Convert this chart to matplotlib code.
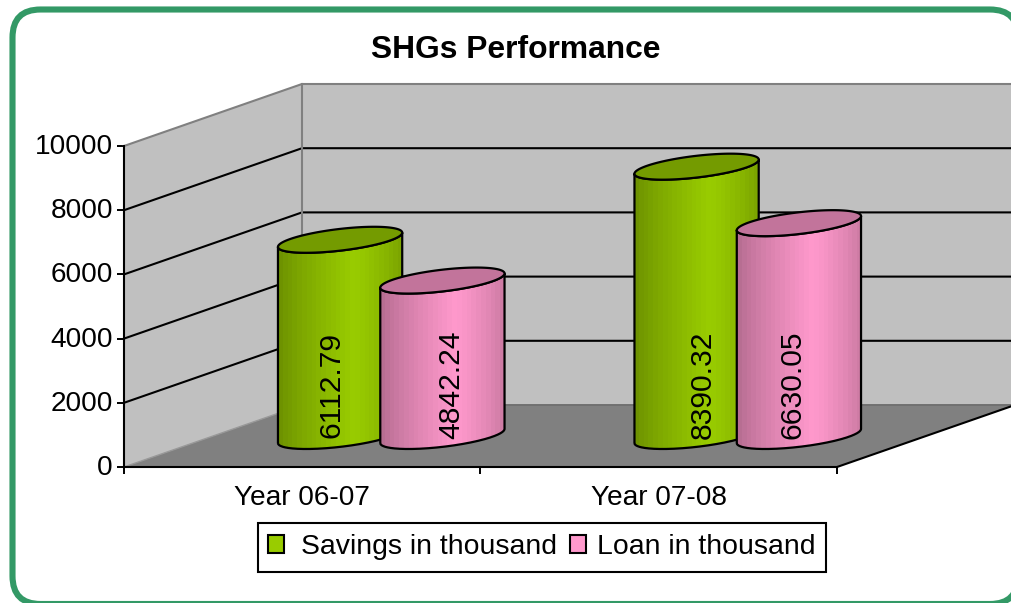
import numpy as np
import matplotlib
matplotlib.use("Agg")
import matplotlib.pyplot as plt
from matplotlib.patches import FancyBboxPatch, PathPatch, Patch, Polygon, Rectangle
from matplotlib.path import Path
from matplotlib.transforms import IdentityTransform, ScaledTranslation

plt.rcParams['font.family'] = ['Liberation Sans', 'DejaVu Sans']

TITLE = "SHGs Performance"
categories = ["Year 06-07", "Year 07-08"]
savings = [6112.79, 8390.32]
loan = [4842.24, 6630.05]
savings_labels = ["6112.79", "8390.32"]
loan_labels = ["4842.24", "6630.05"]
y_ticks = [0, 2000, 4000, 6000, 8000, 10000]
series_names = ["Savings in thousand", "Loan in thousand"]

W, H = 1012, 603
FS = 20.2
LFS = 20.4
fig = plt.figure(figsize=(W / 100, H / 100), dpi=100, facecolor='white')

# rounded outer frame
frame = FancyBboxPatch((12.5 + 28, H - 604 + 28), 1018 - 12.5 - 56, 604 - 9.5 - 56,
                       boxstyle="round,pad=28,rounding_size=28",
                       transform=IdentityTransform(), fc='white', ec='#339966', lw=4.4, zorder=0)
fig.add_artist(frame)

# axes = front plane of the 3-D box
L, R, T, B = 124, 837, 146, 467
ax = fig.add_axes([L / W, 1 - B / H, (R - L) / W, (B - T) / H])
ax.patch.set_visible(False)
ax.set_xlim(0, 2)
ax.set_ylim(0, 10000)
sx = 2 / (R - L)        # data units per pixel
sy = 10000 / (B - T)
DX, DY = 178 * sx, 62 * sy   # depth vector

kw = dict(clip_on=False)
ax.add_patch(Polygon([(0, 0), (DX, DY), (DX, 10000 + DY), (0, 10000)], fc='#C0C0C0', ec='none', zorder=1, **kw))
ax.add_patch(Polygon([(DX, DY), (2 + DX, DY), (2 + DX, 10000 + DY), (DX, 10000 + DY)], fc='#C0C0C0', ec='none', zorder=1, **kw))
ax.add_patch(Polygon([(0, 0), (2, 0), (2 + DX, DY), (DX, DY)], fc='#808080', ec='none', zorder=1, **kw))
for v in y_ticks[1:]:
    ax.plot([0, DX, 2 + DX], [v, v + DY, v + DY], color='black' if v < 10000 else '#808080',
            lw=1.5, zorder=2, solid_joinstyle='miter', **kw)
ax.plot([DX, DX], [DY, 10000 + DY], color='#808080', lw=1.5, zorder=2, **kw)
ax.plot([DX, 2 + DX], [DY, DY], color='#707070', lw=1.4, zorder=2, **kw)
ax.plot([0, DX], [0, DY], color='#999999', lw=1.0, zorder=2, **kw)
ax.plot([2, 2 + DX], [0, DY], color='black', lw=1.5, zorder=3, **kw)

# cylinders: slanted elliptical end caps
A, BX, BY = 52 * sx, 34 * sx, 13 * sy


def ring(cx, cy, n=360):
    t = np.linspace(0, 2 * np.pi, n, endpoint=False)
    return np.c_[cx + A * np.cos(t) + BX * np.sin(t), cy + BY * np.sin(t)]


def front_half(pts):
    left, right = int(np.argmin(pts[:, 0])), int(np.argmax(pts[:, 0]))
    rolled = np.roll(pts, -left, axis=0)
    return rolled[: (right - left) % len(pts) + 1]


def shade_factors(n=26):
    u = (np.arange(n) + 0.5) / n
    return np.where(u < 0.6, 0.70 + 0.30 * (u / 0.6) ** 0.8, 1.0 - 0.20 * ((u - 0.6) / 0.4) ** 1.3)


def cylinder(pos, value, base_rgb, z):
    cx, cy = pos + DX / 2, DY / 2
    top = value + cy
    front_top = front_half(ring(cx, top))
    front_bot = front_half(ring(cx, cy))
    body = np.vstack([front_bot, front_top[::-1], front_bot[:1]])
    outline = PathPatch(Path(body), fc='none', ec='black', lw=1.6, zorder=z + 0.2, clip_on=False,
                        joinstyle='round')
    clip = PathPatch(Path(body), fc='none', ec='none', transform=ax.transData)
    ax.add_patch(clip)
    cols = np.array(base_rgb)[None, None, :] * shade_factors()[None, :, None]
    xs = body[:, 0]
    im = ax.imshow(cols, extent=[xs.min(), xs.max(), cy - BY * 1.2, top + BY * 1.2], aspect='auto',
                   interpolation='nearest', origin='lower', zorder=z)
    im.set_clip_box(fig.bbox)
    im.set_clip_path(clip)
    ax.add_patch(outline)
    ax.add_patch(Polygon(ring(cx, top), closed=True, fc=np.array(base_rgb) * 0.76, ec='black', lw=1.6,
                         zorder=z + 0.3, clip_on=False))


GREEN = (0x99 / 255, 0xCC / 255, 0)
PINK = (1.0, 0x99 / 255, 0xCC / 255)
centers = [0.5, 1.5]
HALF = 0.1435
for i, c in enumerate(centers):
    cylinder(c - HALF, savings[i], GREEN, 5 + 2 * i)
    cylinder(c + HALF, loan[i], PINK, 6 + 2 * i)
ax.set_xlim(0, 2)
ax.set_ylim(0, 10000)

label_offsets = [(-9, 9), (6, -6)]
for i, c in enumerate(centers):
    for pos, txt, off in ((c - HALF, savings_labels[i], label_offsets[i][0]),
                          (c + HALF, loan_labels[i], label_offsets[i][1])):
        ax.text(pos + DX / 2 + off * sx, (B - 385) * sy, txt, rotation=90, ha='center', va='center',
                fontsize=21.6, color='black', zorder=20, clip_on=False)

# axes, ticks
for s in ('top', 'right'):
    ax.spines[s].set_visible(False)
for s in ('left', 'bottom'):
    ax.spines[s].set_linewidth(1.5)
    ax.spines[s].set_zorder(4)
ax.set_yticks(y_ticks)
ax.set_yticklabels([str(v) for v in y_ticks], fontsize=FS)
ax.set_xticks([0, 1, 2])
ax.set_xticklabels([])
ax.set_xticks(centers, minor=True)
ax.set_xticklabels(categories, minor=True, fontsize=FS)
ax.tick_params(axis='y', length=5, width=1.4, pad=3)
ax.tick_params(axis='x', which='major', length=5, width=1.4)
ax.tick_params(axis='x', which='minor', length=0, pad=13)
up = ScaledTranslation(0, 1.5 / 72, fig.dpi_scale_trans)
for lab in ax.get_yticklabels():
    lab.set_transform(lab.get_transform() + up)

fig.text(516 / W, 1 - 50 / H, TITLE, fontsize=22.9, fontweight='bold', ha='center', va='center')

# legend
fig.add_artist(Rectangle((258, H - 572), 568, 49, transform=IdentityTransform(), fc='white', ec='black', lw=1.5, zorder=30))
handles = [Patch(fc='#99CC00', ec='black', lw=1.5), Patch(fc='#FF99CC', ec='black', lw=1.5)]
fs_px = LFS * 100 / 72
leg = fig.legend(handles, series_names, loc='center left',
                 bbox_to_anchor=(274 / W, 1 - 547 / H), ncol=2, frameon=False, fontsize=LFS,
                 handlelength=16 / fs_px, handleheight=16 / fs_px, handletextpad=11 / fs_px,
                 columnspacing=13 / fs_px, borderpad=0, borderaxespad=0)
leg.set_zorder(31)
leg.get_patches()[0].set_x(-6 * 72 / 100)

fig.savefig("out.png", dpi=100)
